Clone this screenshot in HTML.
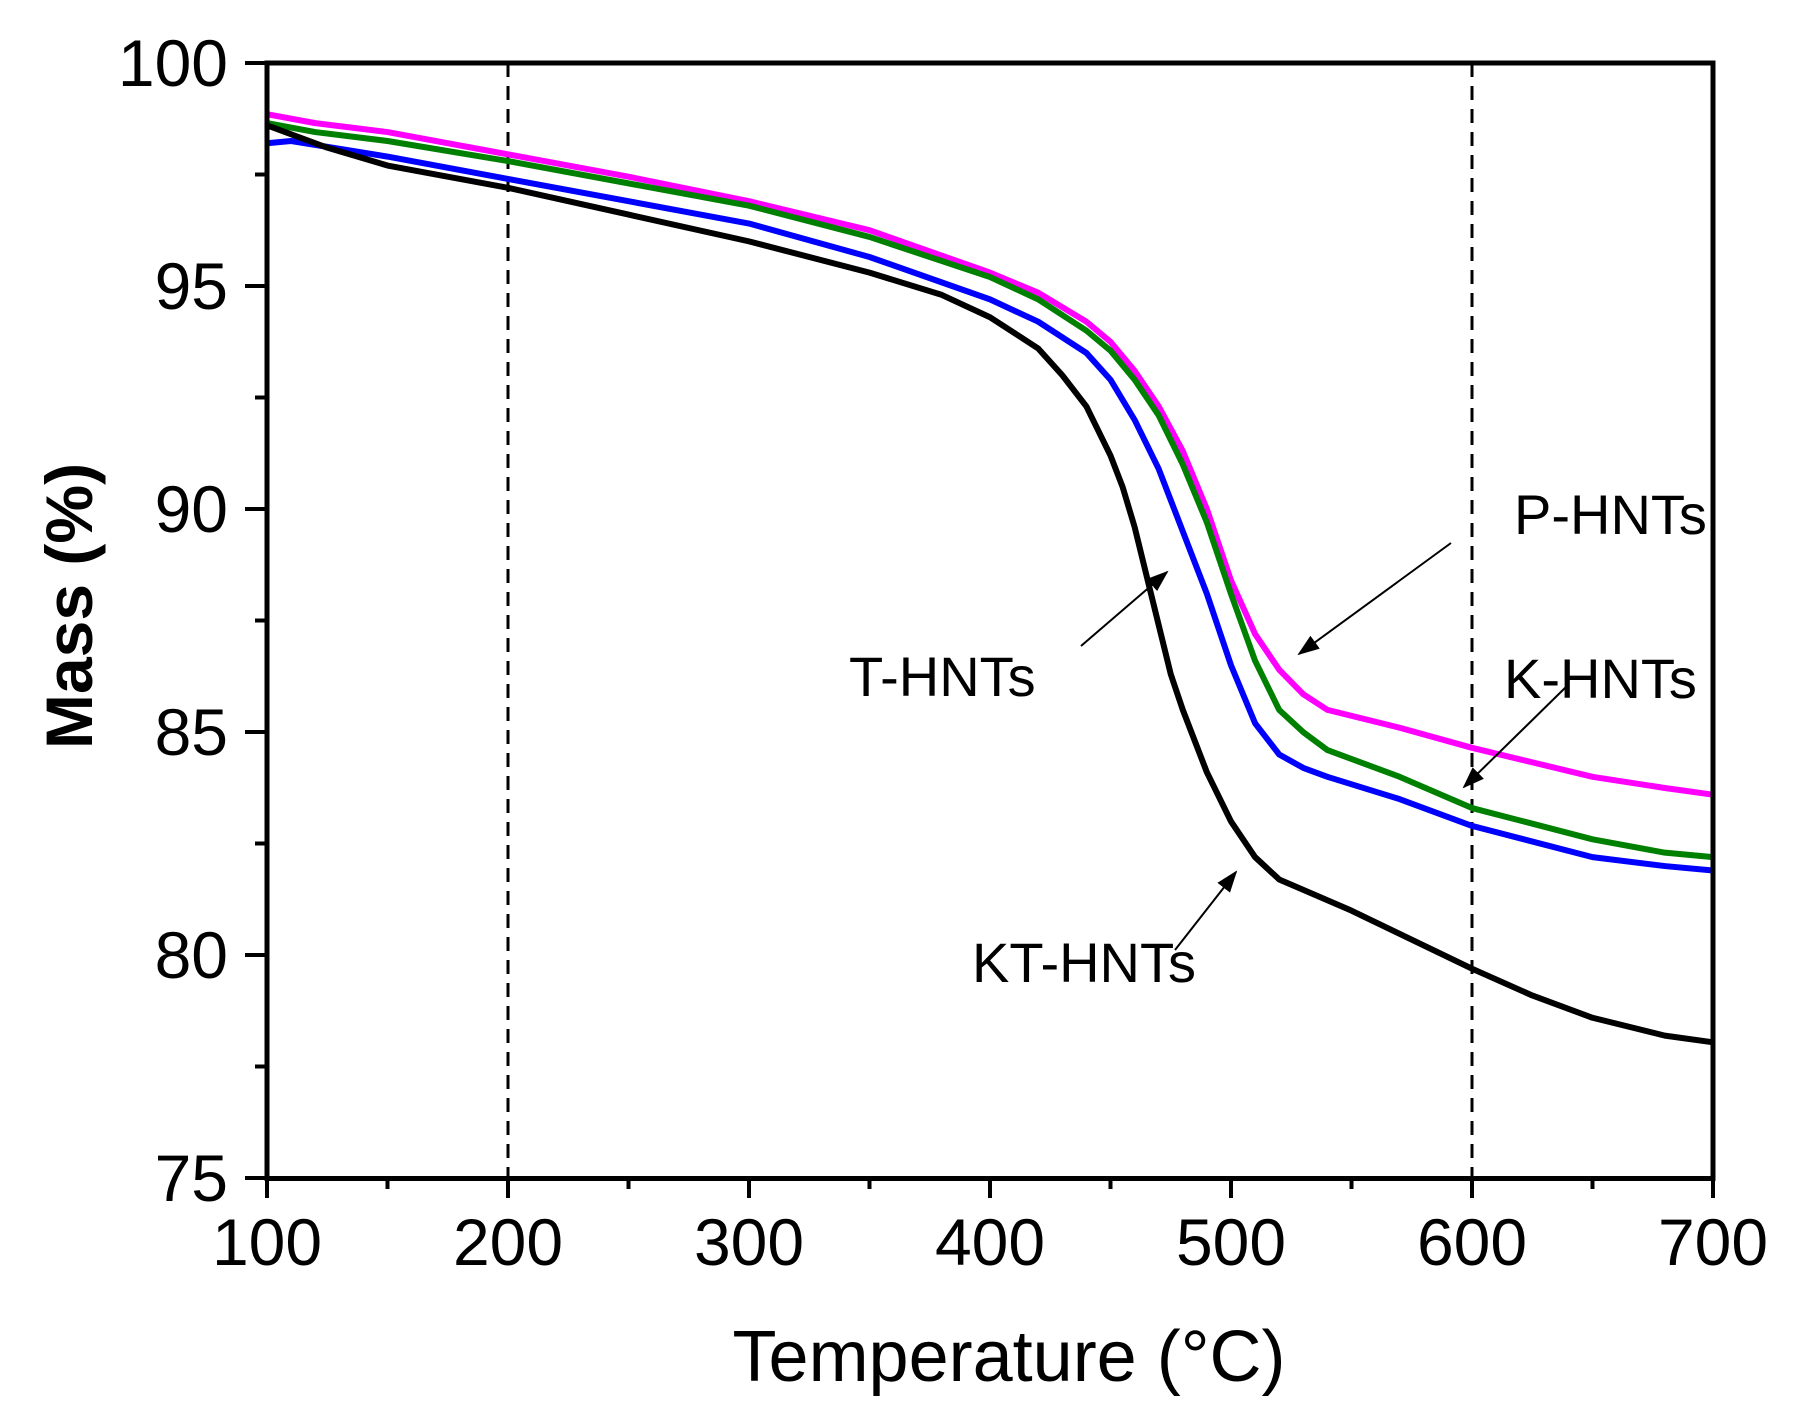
<!DOCTYPE html>
<html><head><meta charset="utf-8"><style>html,body{margin:0;padding:0;background:#fff}svg{display:block}</style></head>
<body>
<svg width="1794" height="1417" xmlns="http://www.w3.org/2000/svg" font-family="Liberation Sans, Arial, sans-serif">
<rect width="1794" height="1417" fill="#fff"/>
<defs>
<marker id="ah2" markerWidth="22" markerHeight="16" refX="20" refY="8" orient="auto" markerUnits="userSpaceOnUse" viewBox="0 0 22 16"><path d="M0,0 L22,8 L0,16 z" fill="#000"/></marker></defs>
<line x1="508" y1="63" x2="508" y2="1178" stroke="#000" stroke-width="3" stroke-dasharray="14,9"/>
<line x1="1472" y1="63" x2="1472" y2="1178" stroke="#000" stroke-width="3" stroke-dasharray="14,9"/>
<g transform="translate(267,62.9) scale(2.41,-44.62) translate(-100,-100)" fill="none" stroke-width="6" stroke-linejoin="round">
<polyline vector-effect="non-scaling-stroke" stroke="#ff00ff" points="100,98.85 120,98.65 150,98.45 200,97.95 250,97.45 300,96.9 350,96.25 400,95.3 420,94.85 440,94.2 450,93.75 460,93.1 470,92.3 480,91.3 490,90 500,88.4 510,87.2 520,86.4 530,85.85 540,85.5 570,85.1 600,84.65 650,84.0 680,83.75 700,83.6"/>
<polyline vector-effect="non-scaling-stroke" stroke="#008000" points="100,98.65 120,98.45 150,98.25 200,97.8 250,97.3 300,96.8 350,96.1 400,95.2 420,94.7 440,94.0 450,93.55 460,92.9 470,92.1 480,91.0 490,89.7 500,88.1 510,86.6 520,85.5 530,85.0 540,84.6 570,84.0 600,83.3 650,82.6 680,82.3 700,82.2"/>
<polyline vector-effect="non-scaling-stroke" stroke="#0000ff" points="100,98.2 110,98.25 150,97.9 200,97.4 250,96.9 300,96.4 350,95.65 400,94.7 420,94.2 440,93.5 450,92.9 460,92.0 470,90.9 480,89.5 490,88.1 500,86.5 510,85.2 520,84.5 530,84.2 540,84.0 570,83.5 600,82.9 650,82.2 680,82.0 700,81.9"/>
<polyline vector-effect="non-scaling-stroke" stroke="#000" points="100,98.6 125,98.1 150,97.7 200,97.2 250,96.6 300,96.0 350,95.3 380,94.8 400,94.3 420,93.6 430,93.0 440,92.3 450,91.2 455,90.5 460,89.6 465,88.5 470,87.4 475,86.3 480,85.5 485,84.8 490,84.1 500,83.0 510,82.2 520,81.7 550,81.0 575,80.35 600,79.7 625,79.1 650,78.6 680,78.2 700,78.05"/>
</g>
<rect x="267" y="63" width="1446" height="1115.5" fill="none" stroke="#000" stroke-width="5"/>
<g stroke="#000" stroke-width="4">
<line x1="267" y1="1178" x2="267" y2="1198"/><line x1="508" y1="1178" x2="508" y2="1198"/><line x1="749" y1="1178" x2="749" y2="1198"/><line x1="990" y1="1178" x2="990" y2="1198"/><line x1="1231" y1="1178" x2="1231" y2="1198"/><line x1="1472" y1="1178" x2="1472" y2="1198"/><line x1="1713" y1="1178" x2="1713" y2="1198"/>
<line x1="387.5" y1="1178" x2="387.5" y2="1189"/><line x1="628.5" y1="1178" x2="628.5" y2="1189"/><line x1="869.5" y1="1178" x2="869.5" y2="1189"/><line x1="1110.5" y1="1178" x2="1110.5" y2="1189"/><line x1="1351.5" y1="1178" x2="1351.5" y2="1189"/><line x1="1592.5" y1="1178" x2="1592.5" y2="1189"/>
<line x1="245" y1="63" x2="267" y2="63"/><line x1="245" y1="286" x2="267" y2="286"/><line x1="245" y1="509" x2="267" y2="509"/><line x1="245" y1="732" x2="267" y2="732"/><line x1="245" y1="955" x2="267" y2="955"/><line x1="245" y1="1178" x2="267" y2="1178"/>
<line x1="255" y1="174.5" x2="267" y2="174.5"/><line x1="255" y1="397.5" x2="267" y2="397.5"/><line x1="255" y1="620.5" x2="267" y2="620.5"/><line x1="255" y1="843.5" x2="267" y2="843.5"/><line x1="255" y1="1066.5" x2="267" y2="1066.5"/>
</g>
<g font-size="66" text-anchor="end">
<text x="228" y="86">100</text><text x="228" y="309">95</text><text x="228" y="532">90</text><text x="228" y="755">85</text><text x="228" y="978">80</text><text x="228" y="1201">75</text>
</g>
<g font-size="66" text-anchor="middle">
<text x="267" y="1265">100</text><text x="508" y="1265">200</text><text x="749" y="1265">300</text><text x="990" y="1265">400</text><text x="1231" y="1265">500</text><text x="1472" y="1265">600</text><text x="1713" y="1265">700</text>
</g>
<text x="1009" y="1381" font-size="72" text-anchor="middle">Temperature (°C)</text>
<text transform="translate(92,606) rotate(-90)" font-size="66" font-weight="bold" text-anchor="middle">Mass (%)</text>
<g font-size="56">
<text x="1514" y="534">P-HNTs</text>
<text x="849" y="696">T-HNTs</text>
<text x="1504" y="698">K-HNTs</text>
<text x="972" y="982">KT-HNTs</text>
</g>
<g stroke="#000" stroke-width="2" marker-end="url(#ah2)">
<line x1="1451" y1="543" x2="1299" y2="654"/>
<line x1="1081" y1="646" x2="1167" y2="572"/>
<line x1="1567" y1="686" x2="1464" y2="787"/>
<line x1="1175" y1="950" x2="1236" y2="872"/>
</g>
</svg>
</body></html>
